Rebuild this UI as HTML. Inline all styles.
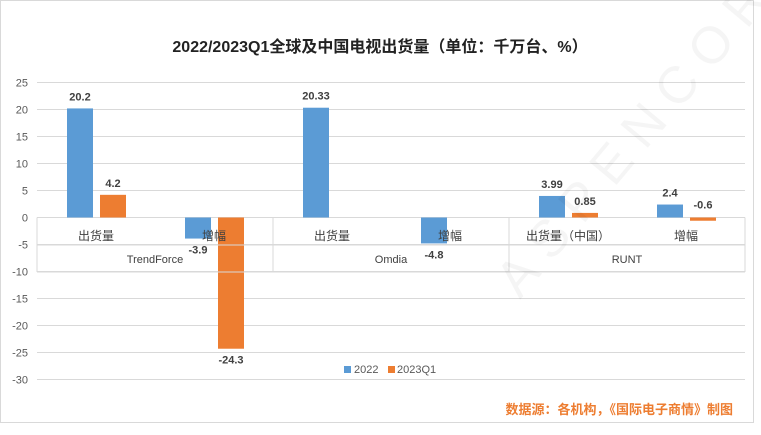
<!DOCTYPE html>
<html><head><meta charset="utf-8">
<style>
body{margin:0;background:#fff;}
svg text{font-family:"Liberation Sans","Noto Sans CJK SC",sans-serif;}
</style></head>
<body>
<svg id="chart" width="761" height="430" xmlns="http://www.w3.org/2000/svg">
<rect x="0" y="0" width="761" height="430" fill="#fff"/>
<rect x="0.5" y="0.5" width="753" height="422" fill="none" stroke="#d9d9d9"/>
<text x="380" y="52" text-anchor="middle" font-size="16" font-weight="bold" fill="#222">2022/2023Q1全球及中国电视出货量（单位：千万台、%）</text>
<g id="grid"></g>
<g id="yticks"></g>
<g id="bars"></g>
<g id="cats"></g>
<g id="labels"></g>
<g>
<rect x="344" y="366" width="7" height="7" fill="#5b9bd5"/>
<text x="354" y="373" font-size="11" fill="#595959">2022</text>
<rect x="388" y="366" width="7" height="7" fill="#ed7d31"/>
<text x="397" y="373" font-size="11" fill="#595959">2023Q1</text>
</g>
<text x="733" y="414" text-anchor="end" font-size="13" font-weight="bold" fill="#ed7d31">数据源：各机构，《国际电子商情》制图</text>
<text x="520" y="300" font-size="52" fill="#000" fill-opacity="0.04" transform="rotate(-50 520 300)" letter-spacing="14">ASPENCORE</text>
</svg>
<script>
const categories=["出货量","增幅","出货量","增幅","出货量（中国）","增幅"];
const groups=["TrendForce","Omdia","RUNT"];
const series2022=[20.2,-3.9,20.33,-4.8,3.99,2.4];
const series2023=[4.2,-24.3,null,null,0.85,-0.6];
const labels2022=["20.2","-3.9","20.33","-4.8","3.99","2.4"];
const labels2023=["4.2","-24.3","","","0.85","-0.6"];
const yTicks=[25,20,15,10,5,0,-5,-10,-15,-20,-25,-30];

const NS="http://www.w3.org/2000/svg";
const L=37,R=745,zeroY=217.5,pxPer=5.4;
const y=v=>zeroY-v*pxPer;
const catW=(R-L)/categories.length;
const cx=i=>L+catW*(i+0.5);
function mk(tag,attrs,parent,txt){const e=document.createElementNS(NS,tag);for(const k in attrs)e.setAttribute(k,attrs[k]);if(txt!==undefined)e.textContent=txt;parent.appendChild(e);return e;}
const grid=document.getElementById('grid'),yt=document.getElementById('yticks');
yTicks.forEach(t=>{
  const l=mk('line',{x1:L,x2:R,y1:y(t),y2:y(t),stroke:'#d9d9d9'},grid);
  
  
  const tx=mk('text',{x:28,y:y(t)+4,'text-anchor':'end','font-size':11,fill:'#595959'},yt,String(t));
  
  
});
const cats=document.getElementById('cats');
mk('line',{x1:L,x2:L,y1:zeroY,y2:272,stroke:'#d9d9d9'},cats);
mk('line',{x1:L,x2:R,y1:245,y2:245,stroke:'#d9d9d9'},cats);
mk('line',{x1:L,x2:R,y1:272,y2:272,stroke:'#d9d9d9'},cats);
mk('line',{x1:R,x2:R,y1:zeroY,y2:272,stroke:'#d9d9d9'},cats);
for(let g=1;g<groups.length;g++){mk('line',{x1:L+catW*2*g,x2:L+catW*2*g,y1:zeroY,y2:272,stroke:'#d9d9d9'},cats);}
categories.forEach((c,i)=>{
  const t=mk('text',{x:cx(i),y:240,'text-anchor':'middle','font-size':12,fill:'#404040'},cats,c);
  
  
});
groups.forEach((g,i)=>{
  const t=mk('text',{x:L+catW*(2*i+1),y:263,'text-anchor':'middle','font-size':11,fill:'#404040'},cats,g);
  
  
});
const bars=document.getElementById('bars'),lab=document.getElementById('labels');
const bw=26;
function drawSeries(vals,labs,off,color,name){
  vals.forEach((v,i)=>{
    if(v===null)return;
    const x=cx(i)+off-bw/2;
    const h=Math.max(Math.abs(y(v)-zeroY),1.5);
    const r=mk('rect',{x:x,y:v>=0?zeroY-h:zeroY,width:bw,height:h,fill:color},bars);
    
    
    let ly=v>=0?y(v)-8:y(v)+15;
    if(v<0&&v>-1){ly=zeroY-9;}
    const t=mk('text',{x:cx(i)+off,y:ly,'text-anchor':'middle','font-size':11,'font-weight':'bold',fill:'#404040'},lab,labs[i]);
    
    
  });
}
drawSeries(series2022,labels2022,-16,'#5b9bd5','series-2022');
drawSeries(series2023,labels2023,17,'#ed7d31','series-2023q1');
</script>
</body></html>
